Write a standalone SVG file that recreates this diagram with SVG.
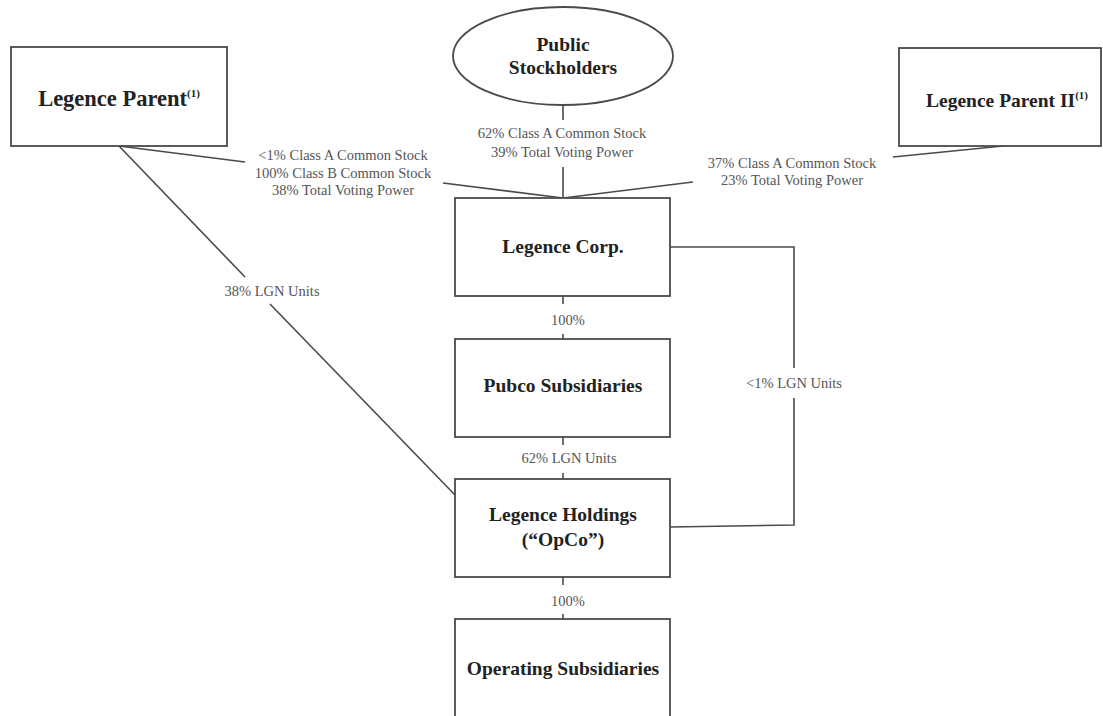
<svg xmlns="http://www.w3.org/2000/svg" width="1103" height="716" viewBox="0 0 1103 716">
<style>
.box{fill:#fff;stroke:#4a4a4a;stroke-width:1.8}
.t{font-family:"Liberation Serif","Times New Roman",serif;font-weight:bold;font-size:19.5px;fill:#222;text-anchor:middle}
.big{font-size:22.5px}
.sup{font-size:11px}
.l{font-family:"Liberation Serif","Times New Roman",serif;font-size:14.5px;fill:#555;text-anchor:middle}
.c{fill:none;stroke:#4a4a4a;stroke-width:1.6}
</style>
<rect width="1103" height="716" fill="#fff"/>
<g id="connectors">
<polyline class="c" points="119,146 245,162"/>
<polyline class="c" points="443,183 563,198"/>
<polyline class="c" points="119,146 245,277"/>
<polyline class="c" points="270,304 455,495"/>
<polyline class="c" points="563,105 563,120"/>
<polyline class="c" points="563,167 563,198"/>
<polyline class="c" points="1003,146 893,157"/>
<polyline class="c" points="693,182 563,198"/>
<polyline class="c" points="563,296 563,304"/>
<polyline class="c" points="563,334 563,339"/>
<polyline class="c" points="563,437 563,445"/>
<polyline class="c" points="563,473 563,479"/>
<polyline class="c" points="563,577 563,585"/>
<polyline class="c" points="563,614 563,619"/>
<polyline class="c" points="670,247 794,247 794,368"/>
<polyline class="c" points="794,398 794,525 670,527"/>
<text class="l" x="343" y="160">&lt;1% Class A Common Stock</text>
<text class="l" x="343" y="178">100% Class B Common Stock</text>
<text class="l" x="343" y="195">38% Total Voting Power</text>
<text class="l" x="562" y="138">62% Class A Common Stock</text>
<text class="l" x="562" y="157">39% Total Voting Power</text>
<text class="l" x="792" y="168">37% Class A Common Stock</text>
<text class="l" x="792" y="185">23% Total Voting Power</text>
<text class="l" x="272" y="296">38% LGN Units</text>
<text class="l" x="568" y="325">100%</text>
<text class="l" x="569" y="463">62% LGN Units</text>
<text class="l" x="794" y="388">&lt;1% LGN Units</text>
<text class="l" x="568" y="606">100%</text>
</g>
<g id="legence-parent">
<rect class="box" x="11" y="47" width="216" height="99"/>
<text class="t big" x="119" y="106">Legence Parent<tspan class="sup" dy="-9">(1)</tspan></text>
</g>
<g id="public-stockholders">
<ellipse class="box" cx="563" cy="56" rx="110" ry="49"/>
<text class="t" x="563" y="51">Public</text>
<text class="t" x="563" y="74">Stockholders</text>
</g>
<g id="legence-parent-ii">
<rect class="box" x="899" y="48" width="202" height="98"/>
<text class="t" x="1007" y="107">Legence Parent II<tspan class="sup" dy="-8">(1)</tspan></text>
</g>
<g id="legence-corp">
<rect class="box" x="455" y="198" width="215" height="98"/>
<text class="t" x="563" y="253">Legence Corp.</text>
</g>
<g id="pubco-subsidiaries">
<rect class="box" x="455" y="339" width="215" height="98"/>
<text class="t" x="563" y="392">Pubco Subsidiaries</text>
</g>
<g id="legence-holdings">
<rect class="box" x="455" y="479" width="215" height="98"/>
<text class="t" x="563" y="521">Legence Holdings</text>
<text class="t" x="563" y="546">(“OpCo”)</text>
</g>
<g id="operating-subsidiaries">
<rect class="box" x="455" y="619" width="215" height="110"/>
<text class="t" x="563" y="675">Operating Subsidiaries</text>
</g>
</svg>
